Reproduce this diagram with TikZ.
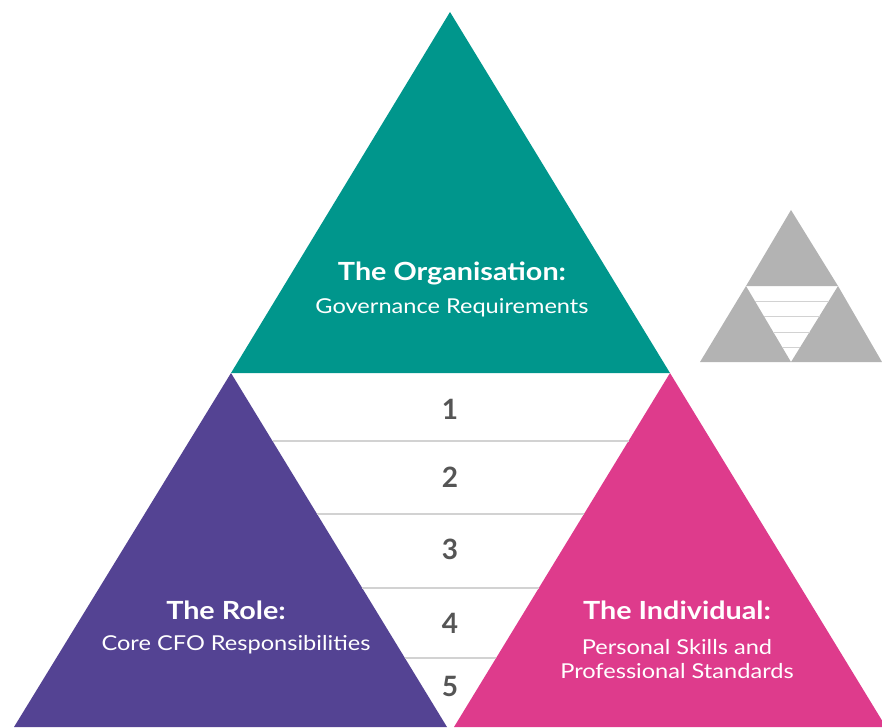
\documentclass[tikz,border=0pt]{standalone}
\usepackage{fontspec}
\setmainfont{Lato}
\newfontfamily\widefont[FakeStretch=1.15]{Lato}
\definecolor{teal1}{RGB}{0,150,140}
\definecolor{purp1}{RGB}{84,67,147}
\definecolor{pink1}{RGB}{222,59,140}
\definecolor{icongray}{RGB}{179,179,179}
\definecolor{numgray}{RGB}{85,85,85}
\definecolor{linegray}{RGB}{210,210,210}
\tikzset{
  title/.style={text=white,font=\widefont\fontsize{25}{28}\selectfont\bfseries,inner sep=0pt,anchor=center},
  sub/.style={text=white,font=\widefont\fontsize{20.5}{25}\selectfont,inner sep=0pt,anchor=center,align=center},
  num/.style={text=numgray,font=\fontsize{28}{30}\selectfont\bfseries,inner sep=0pt,anchor=center},
  level/.style={draw=linegray,line width=1.5pt},
  iconline/.style={draw=linegray,line width=0.8pt}
}
\begin{document}
\begin{tikzpicture}[x=1pt,y=-1pt]
\useasboundingbox (0,0) rectangle (882,727);
\begin{scope}
\clip (0,0) rectangle (882,727);
% main triangles
\fill[teal1] (450,12) -- (670,373) -- (231,373) -- cycle;
\fill[purp1] (231,373) -- (447,727) -- (14,727) -- cycle;
\fill[pink1] (670,373) -- (886,727) -- (454,727) -- cycle;
% level lines between the edges
\coordinate (l1a) at (272.5,441); \coordinate (l1b) at (628.5,441);
\coordinate (l2a) at (317,514);   \coordinate (l2b) at (584,514);
\coordinate (l3a) at (362,588);   \coordinate (l3b) at (539,588);
\coordinate (l4a) at (404.5,658); \coordinate (l4b) at (496,658);
\draw[level] (l1a) -- (l1b);
\draw[level] (l2a) -- (l2b);
\draw[level] (l3a) -- (l3b);
\draw[level] (l4a) -- (l4b);
% numbers
\node[num] (n1) at (450,409) {1};
\node[num] (n2) at (450,477) {2};
\node[num] (n3) at (450,549) {3};
\node[num] (n4) at (450,623) {4};
\node[num] (n5) at (450,686) {5};
% labels
\node[title] (orgt) at (452,273) {The Organisation:};
\node[sub] (orgs) at (452,308) {Governance Requirements};
\node[title] (rolet) at (226,610) {The Role:};
\node[sub] (roles) at (236,645) {Core CFO Responsibilities};
\node[title] (indt) at (677,610) {The Individual:};
\node[sub] (inds) at (677,659) {Personal Skills and\\[-0.5pt]Professional Standards};
% icon
\fill[icongray] (791,210) -- (838,286) -- (746,286) -- cycle;
\fill[icongray] (746,286) -- (791,362) -- (700,362) -- cycle;
\fill[icongray] (838,286) -- (882,362) -- (791,362) -- cycle;
\coordinate (i1a) at (755,301); \coordinate (i1b) at (829,301);
\coordinate (i2a) at (764,316); \coordinate (i2b) at (820,316);
\coordinate (i3a) at (773,332); \coordinate (i3b) at (810,332);
\coordinate (i4a) at (782,347); \coordinate (i4b) at (800,347);
\draw[iconline] (i1a) -- (i1b);
\draw[iconline] (i2a) -- (i2b);
\draw[iconline] (i3a) -- (i3b);
\draw[iconline] (i4a) -- (i4b);
\end{scope}
\end{tikzpicture}
\end{document}
